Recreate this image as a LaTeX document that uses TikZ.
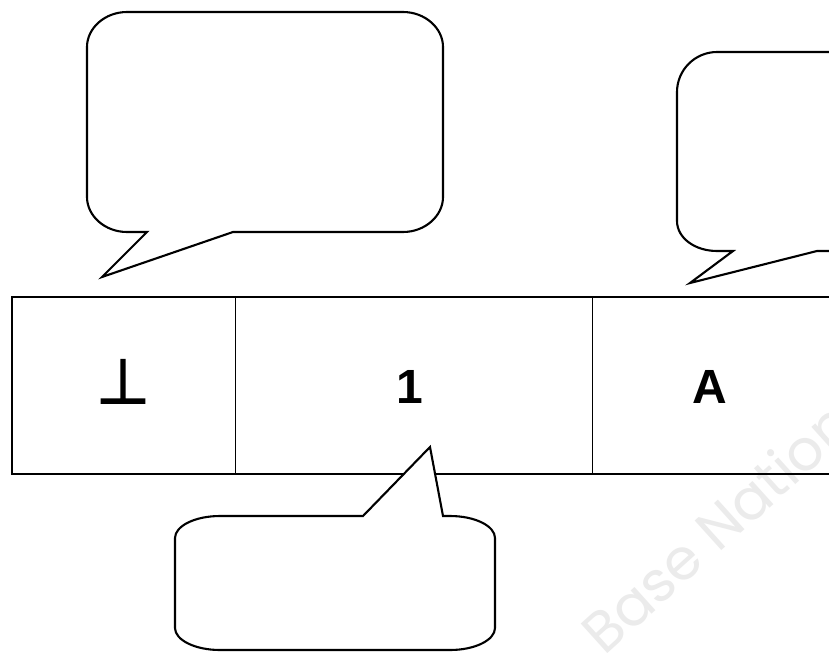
\documentclass[tikz,border=0pt]{standalone}
\usepackage{fontspec}
\setmainfont{Liberation Sans}
\newfontfamily\symfont[FakeBold=2.5]{DejaVu Sans}
\newfontfamily\wmfont{Poppins}
\begin{document}
\begin{tikzpicture}[x=1pt,y=-1pt,
  balloon/.style={draw=black,line width=2.1pt,fill=white,line join=miter},
  tableline/.style={draw=black,line width=1.7pt},
  divider/.style={draw=black,line width=0.8pt},
  celltext/.style={font=\fontsize{48}{48}\selectfont\bfseries,anchor=base,inner sep=0pt},
  watermark/.style={font=\wmfont\fontsize{57}{57}\selectfont,text=black!8,anchor=base west,inner sep=0pt,rotate=42}]
\useasboundingbox (0,0) rectangle (829,653);
\clip (0,0) rectangle (829,653);
\fill[white] (0,0) rectangle (829,653);
% watermark
\node[watermark] (wm) at (604,657) {Base Nation};
% table
\coordinate (tl) at (12,297);
\coordinate (br) at (900,474);
\draw[tableline] (tl) rectangle (br);
\coordinate (d1t) at (235,297); \coordinate (d1b) at (235,474);
\coordinate (d2t) at (592,297); \coordinate (d2b) at (592,474);
\draw[divider] (d1t) -- (d1b);
\draw[divider] (d2t) -- (d2b);
% cell texts
\node[celltext,font=\symfont\fontsize{62}{62}\selectfont] (c0) at (123,403) {⊥};
\node[celltext] (c1) at (410,403) {1};
\node[celltext] (c2) at (710,403) {A};
% top-left balloon
\path[balloon] (147,232) -- (102,277) -- (233,232) -- (403,232)
  .. controls (425,232) and (443,216) .. (443,197) -- (443,47)
  .. controls (443,28) and (425,12) .. (403,12) -- (127,12)
  .. controls (105,12) and (87,28) .. (87,47) -- (87,197)
  .. controls (87,216) and (105,232) .. (127,232) -- cycle;
% right balloon
\path[balloon] (733,251) -- (690,283) -- (817,251) -- (900,251) -- (900,52) -- (717,52)
  .. controls (695,52) and (677,70) .. (677,92) -- (677,221)
  .. controls (677,238) and (695,251) .. (717,251) -- cycle;
% bottom balloon
\path[balloon] (363,516) -- (430,447) -- (443,516) -- (450,516)
  .. controls (475,516) and (495,526) .. (495,538) -- (495,628)
  .. controls (495,640) and (475,650) .. (450,650) -- (220,650)
  .. controls (195,650) and (175,640) .. (175,628) -- (175,538)
  .. controls (175,526) and (195,516) .. (220,516) -- cycle;
\end{tikzpicture}
\end{document}
